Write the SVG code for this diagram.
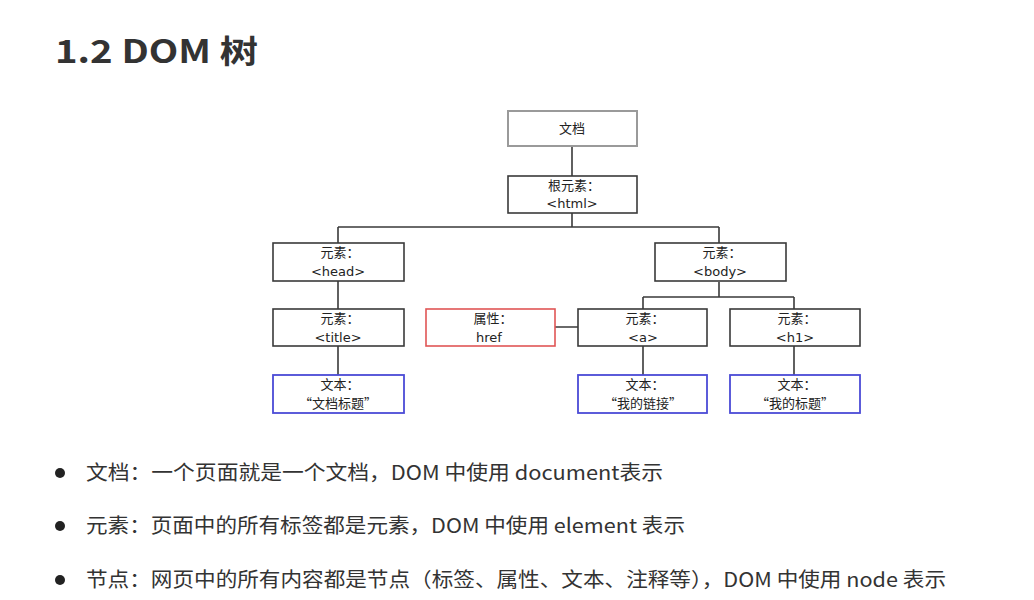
<svg xmlns="http://www.w3.org/2000/svg" width="1034" height="600" viewBox="0 0 1034 600">
<style>
.box{fill:#fff;stroke:#3a3a3a;stroke-width:1.6}
.gray{stroke:#9a9a9a;stroke-width:2}
.red{stroke:#e05555}
.blue{stroke:#4b4bd6;stroke-width:1.8}
.t{font-family:"Noto Sans CJK SC","DejaVu Sans",sans-serif;font-size:13px;fill:#222;text-anchor:middle}
.l{font-family:"DejaVu Sans","Noto Sans CJK SC",sans-serif;font-size:13px;fill:#222;text-anchor:middle}
.b{font-family:"Noto Sans CJK SC","Liberation Sans",sans-serif;font-size:20px;fill:#333}
.ln{stroke:#3a3a3a;stroke-width:1.6;fill:none}
</style>
<rect width="1034" height="600" fill="#fff"/>
<text x="55" y="63" font-family="Noto Sans CJK SC, Liberation Sans, sans-serif" font-size="32" font-weight="bold" fill="#333" textLength="203" lengthAdjust="spacingAndGlyphs">1.2 DOM 树</text>
<g id="connectors">
<path class="ln" d="M572 146V176M572 213V227M338 227H719M338 227V243M719 227V243M338 281V309M338 346V375M719 282V297M643 297H794M643 297V309M794 297V309M643 346V375M794 346V375M555 327H578"/>
</g>
<g id="n-doc"><rect class="box gray" x="508" y="111" width="129" height="35"/><text class="t" x="572" y="133">文档</text></g>
<g id="n-html"><rect class="box" x="508" y="176" width="129" height="37"/><text class="t" x="574" y="190">根元素：</text><text class="l" x="572" y="208">&lt;html&gt;</text></g>
<g id="n-head"><rect class="box" x="273" y="243" width="131" height="38"/><text class="t" x="340" y="257">元素：</text><text class="l" x="338" y="276">&lt;head&gt;</text></g>
<g id="n-body"><rect class="box" x="655" y="243" width="131" height="38"/><text class="t" x="722" y="257">元素：</text><text class="l" x="720" y="276">&lt;body&gt;</text></g>
<g id="n-title"><rect class="box" x="273" y="309" width="131" height="37"/><text class="t" x="340" y="323">元素：</text><text class="l" x="338" y="342">&lt;title&gt;</text></g>
<g id="n-href"><rect class="box red" x="426" y="309" width="129" height="37"/><text class="t" x="493" y="323">属性：</text><text class="l" x="489" y="342">href</text></g>
<g id="n-a"><rect class="box" x="578" y="309" width="129" height="37"/><text class="t" x="645" y="323">元素：</text><text class="l" x="643" y="342">&lt;a&gt;</text></g>
<g id="n-h1"><rect class="box" x="730" y="309" width="130" height="37"/><text class="t" x="797" y="323">元素：</text><text class="l" x="795" y="342">&lt;h1&gt;</text></g>
<g id="n-t1"><rect class="box blue" x="273" y="375" width="131" height="38"/><text class="t" x="340" y="389">文本：</text><text class="t" x="338" y="408">“文档标题”</text></g>
<g id="n-t2"><rect class="box blue" x="578" y="375" width="129" height="38"/><text class="t" x="645" y="389">文本：</text><text class="t" x="643" y="408">“我的链接”</text></g>
<g id="n-t3"><rect class="box blue" x="730" y="375" width="130" height="38"/><text class="t" x="797" y="389">文本：</text><text class="t" x="795" y="408">“我的标题”</text></g>
<g id="bullets">
<circle cx="60" cy="473" r="5" fill="#222"/>
<text class="b" x="86" y="480" textLength="577" lengthAdjust="spacingAndGlyphs">文档：一个页面就是一个文档，DOM 中使用 document表示</text>
<circle cx="60" cy="526" r="5" fill="#222"/>
<text class="b" x="86" y="533" textLength="599" lengthAdjust="spacingAndGlyphs">元素：页面中的所有标签都是元素，DOM 中使用 element 表示</text>
<circle cx="60" cy="580" r="5" fill="#222"/>
<text class="b" x="86" y="587" textLength="860" lengthAdjust="spacingAndGlyphs">节点：网页中的所有内容都是节点（标签、属性、文本、注释等），DOM 中使用 node 表示</text>
</g>
</svg>
